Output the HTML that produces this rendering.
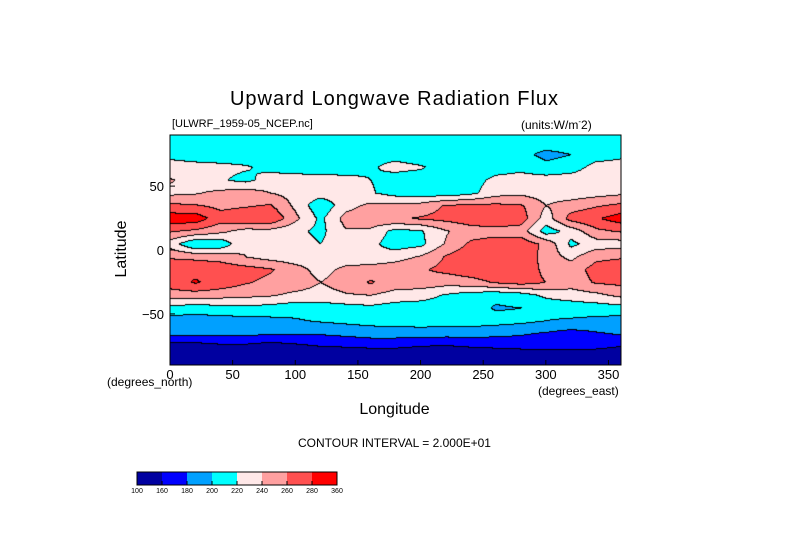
<!DOCTYPE html>
<html><head><meta charset="utf-8"><style>
body{margin:0;background:#fff;width:789px;height:558px;position:relative;overflow:hidden;font-family:"Liberation Sans",sans-serif}
.t{position:absolute;white-space:nowrap;color:#000}
</style></head><body>
<div class="t" style="left:0;width:789px;text-align:center;top:88px;font-size:20px;letter-spacing:1px">Upward Longwave Radiation Flux</div>
<div class="t" style="left:172px;top:118px;font-size:11px">[ULWRF_1959-05_NCEP.nc]</div>
<div class="t" style="left:521px;top:117px;font-size:12px">(units:W/m<sup style="font-size:8px">-</sup>2)</div>
<canvas id="cv" width="451" height="230" style="position:absolute;left:170px;top:135px"></canvas>
<svg id="sv" width="789" height="558" style="position:absolute;left:0;top:0"></svg>
<div class="t" style="left:82px;top:240px;font-size:16px;transform:rotate(-90deg);transform-origin:center;width:80px;text-align:center">Latitude</div>
<div class="t" style="left:107px;top:375px;font-size:12px">(degrees_north)</div>
<div class="t" style="left:538px;top:384px;font-size:12px">(degrees_east)</div>
<div class="t" style="left:0;width:789px;text-align:center;top:401px;font-size:16px">Longitude</div>
<div class="t" style="left:0;width:789px;text-align:center;top:436px;font-size:12px">CONTOUR INTERVAL = 2.000E+01</div>
<script>
const lats=[85,75,65,55,45,35,25,15,5,-5,-15,-25,-35,-45,-55,-65,-75,-85];
const lons=[0,20,40,60,80,100,120,140,160,180,200,220,240,260,280,300,320,340,360];
const r85=[210,210,210,210,210,210,210,210,210,210,210,210,210,210,210,210,210,210,210];
const r75=[215,212,210,210,210,210,210,210,215,215,210,210,210,210,205,195,200,210,215];
const r65=[228,226,225,222,215,210,210,212,218,225,222,212,210,212,215,205,210,228,230];
const r55=[242,230,222,215,228,230,228,225,220,212,210,208,212,225,228,230,232,232,240];
const r45=[235,238,245,250,240,232,230,228,222,212,210,208,215,232,235,230,228,232,236];
const r35=[265,262,255,258,262,235,205,232,245,245,248,262,265,265,262,240,250,258,265];
const r25=[292,292,268,275,278,245,215,248,255,258,262,266,272,275,270,230,268,278,290];
const r15=[262,255,245,232,232,225,215,238,235,212,218,238,250,252,250,210,228,255,262];
const r5=[230,200,205,238,232,228,220,232,225,210,215,242,264,270,272,255,215,230,230];
const rm5=[258,255,252,240,232,228,230,228,225,232,242,262,275,280,278,250,235,255,258];
const rm15=[272,275,272,268,262,248,232,245,250,252,258,265,272,276,272,255,250,268,272];
const rm25=[270,282,272,262,255,252,240,250,262,250,252,248,252,262,268,260,250,262,265];
const rm35=[250,250,248,245,242,235,232,238,240,232,228,218,210,205,210,225,230,235,245];
const rm45=[212,210,212,215,212,208,210,212,215,210,210,210,208,198,200,205,208,210,212];
const rm55=[192,190,192,192,195,198,202,205,208,210,210,210,210,208,205,200,198,195,192];
const rm65=[185,185,185,185,182,182,182,185,188,188,190,188,188,185,182,178,172,178,182];
const rm75=[150,150,155,155,150,155,160,162,165,165,160,158,162,165,168,168,170,168,160];
const rm85=[130,130,130,130,130,130,130,130,130,130,130,130,130,130,130,130,130,130,130];
const grid=[r85,r75,r65,r55,r45,r35,r25,r15,r5,rm5,rm15,rm25,rm35,rm45,rm55,rm65,rm75,rm85];
const levels=[160,180,200,220,240,260,280];
const colors=["#0000a0","#0000ff","#00a0ff","#00ffff","#ffe8e8","#ffa0a0","#ff5050","#ff0000"];
const legendLabels=["100","160","180","200","220","240","260","280","360"];
const xTicks=[0,50,100,150,200,250,300,350];
const yTicks=[50,0,-50];
const X0=170,X1=621,Y0=135,Y1=365;
const xs=v=>X0+(v-0)/360*(X1-X0);
const ys=v=>Y0+(90-v)/180*(Y1-Y0);
function val(lon,lat){
  let fi=(lats[0]-lat)/10;fi=Math.max(0,Math.min(lats.length-1,fi));
  let fj=lon/20;fj=Math.max(0,Math.min(lons.length-1,fj));
  const i=Math.min(Math.floor(fi),lats.length-2),j=Math.min(Math.floor(fj),lons.length-2);
  const a=fi-i,b=fj-j;
  return grid[i][j]*(1-a)*(1-b)+grid[i][j+1]*(1-a)*b+grid[i+1][j]*a*(1-b)+grid[i+1][j+1]*a*b;
}
function bin(v){let k=0;while(k<levels.length&&v>=levels[k])k++;return k;}
const cv=document.getElementById('cv'),ctx=cv.getContext('2d');
const W=cv.width,H=cv.height,bins=[];
for(let y=0;y<H;y++){bins.push([]);for(let x=0;x<W;x++){
  const lon=(x+0.5)/W*360,lat=90-(y+0.5)/H*180;bins[y].push(bin(val(lon,lat)));}}
for(let y=0;y<H;y++)for(let x=0;x<W;x++){
  const k=bins[y][x];let edge=(x>0&&bins[y][x-1]!==k)||(y>0&&bins[y-1][x]!==k);
  ctx.fillStyle=edge?"#000":colors[k];ctx.fillRect(x,y,1,1);}
const sv=document.getElementById('sv'),NS="http://www.w3.org/2000/svg";
function el(t,a,txt){const e=document.createElementNS(NS,t);for(const k in a)e.setAttribute(k,a[k]);if(txt!==undefined)e.textContent=txt;sv.appendChild(e);return e;}
let fr=el('rect',{x:X0,y:Y0,width:X1-X0,height:Y1-Y0,fill:'none',stroke:'#000','stroke-width':1});


xTicks.forEach(v=>{
  let l=el('line',{x1:xs(v),x2:xs(v),y1:Y1,y2:Y1-5,stroke:'#000'});
  
  
  let t=el('text',{x:xs(v),y:Y1+14,'text-anchor':'middle','font-size':13,'font-family':'Liberation Sans'},String(v));
  
  
});
yTicks.forEach(v=>{
  let l=el('line',{x1:X0,x2:X0+5,y1:ys(v),y2:ys(v),stroke:'#000'});
  
  
  let t=el('text',{x:X0-6,y:ys(v)+5,'text-anchor':'end','font-size':13,'font-family':'Liberation Sans'},v<0?'\u2212'+(-v):String(v));
  
  
});
const LX=137,LW=200,LY=472,LH=13,bw=LW/colors.length;
colors.forEach((c,i)=>{
  let r=el('rect',{x:LX+i*bw,y:LY,width:bw,height:LH,fill:c});
  
  
});
let lf=el('rect',{x:LX,y:LY,width:LW,height:LH,fill:'none',stroke:'#000'});


legendLabels.forEach((s,i)=>{
  let l=el('line',{x1:LX+i*bw,x2:LX+i*bw,y1:LY+LH-4,y2:LY+LH,stroke:'#000'});
  
  
  let t=el('text',{x:LX+i*bw,y:LY+LH+8,'text-anchor':'middle','font-size':7,'font-family':'Liberation Sans'},s);
  
  
});
</script>
</body></html>
